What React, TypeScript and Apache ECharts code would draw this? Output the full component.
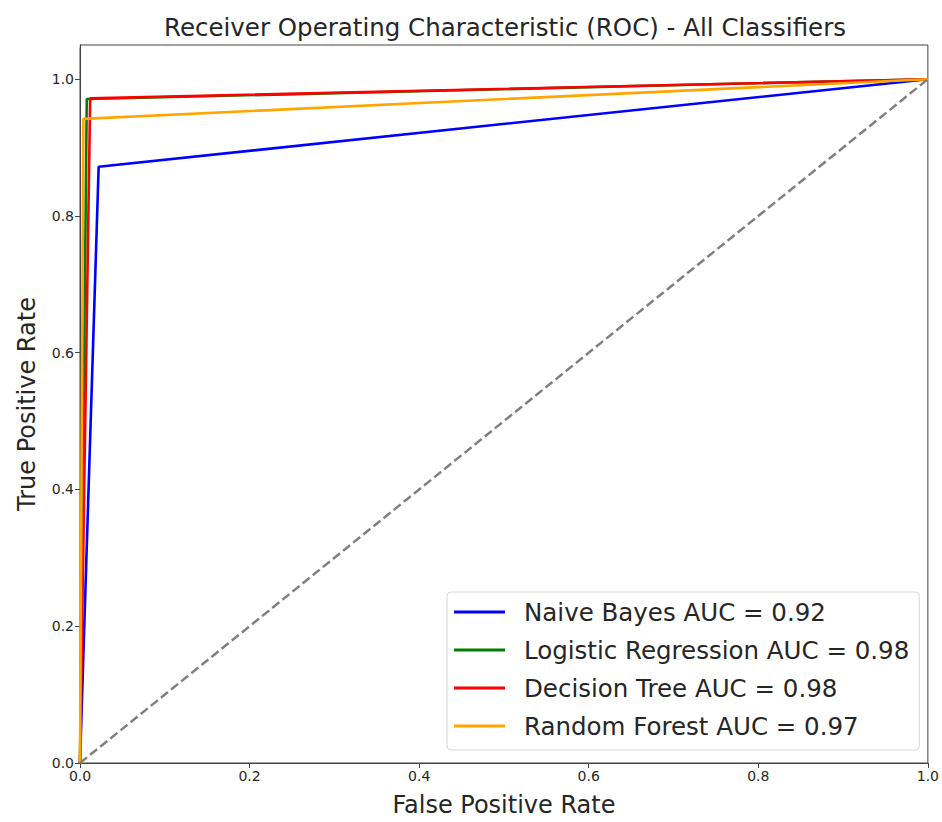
import React, { useEffect, useRef } from "react";
import * as echarts from "echarts";

const seriesNames = [
  "Naive Bayes AUC = 0.92",
  "Logistic Regression AUC = 0.98",
  "Decision Tree AUC = 0.98",
  "Random Forest AUC = 0.97",
];
const seriesColors = ["#0000ff", "#008000", "#ff0000", "#ffa500"];
const fprNB = [0, 0.022, 1];
const tprNB = [0, 0.872, 1];
const fprLR = [0, 0.008, 1];
const tprLR = [0, 0.971, 1];
const fprDT = [0, 0.012, 1];
const tprDT = [0, 0.972, 1];
const fprRF = [0, 0.004, 1];
const tprRF = [0, 0.942, 1];
const diagX = [0, 1];
const diagY = [0, 1];
const tickValues = [0, 0.2, 0.4, 0.6, 0.8, 1.0];

const zip = (xs: number[], ys: number[]) => xs.map((x, i) => [x, ys[i]]);

export default function App() {
  const ref = useRef<HTMLDivElement>(null);
  useEffect(() => {
    if (!ref.current) return;
    const chart = echarts.init(ref.current, null, { renderer: "svg" });
    const font = "DejaVu Sans";
    const tickFmt = (v: number) =>
      tickValues.some((t) => Math.abs(t - v) < 1e-6) ? v.toFixed(1) : "";
    const data = [
      zip(fprNB, tprNB),
      zip(fprLR, tprLR),
      zip(fprDT, tprDT),
      zip(fprRF, tprRF),
    ];
    const axisCommon = {
      type: "value",
      min: 0,
      interval: 0.2,
      nameLocation: "middle",
      nameTextStyle: { fontFamily: font, fontSize: 24, color: "#262626" },
      axisLine: { show: true, lineStyle: { color: "#444" } },
      axisTick: {
        show: true,
        inside: false,
        length: 5,
        customValues: tickValues,
        lineStyle: { color: "#444" },
      },
      axisLabel: {
        fontFamily: font,
        fontSize: 14,
        color: "#262626",
        margin: 6,
        customValues: tickValues,
        formatter: tickFmt,
      },
      splitLine: { show: false },
    };
    chart.setOption({
      animation: false,
      backgroundColor: "#ffffff",
      title: {
        text: "Receiver Operating Characteristic (ROC) - All Classifiers",
        left: 500,
        textAlign: "center",
        top: 10,
        textStyle: { fontFamily: font, fontSize: 24.5, fontWeight: "normal", color: "#262626" },
      },
      grid: {
        left: 80,
        right: 13,
        top: 45,
        bottom: 59,
        show: true,
        borderColor: "#444",
        borderWidth: 1,
        backgroundColor: "transparent",
      },
      xAxis: {
        ...axisCommon,
        max: 1,
        name: "False Positive Rate",
        nameGap: 30,
      },
      yAxis: {
        ...axisCommon,
        max: 1.05,
        name: "True Positive Rate",
        nameGap: 41,
        nameRotate: 90,
      },
      graphic: [
        {
          type: "rect",
          left: 72,
          top: 42,
          shape: { width: 7.5, height: 6 },
          style: { fill: "#ffffff" },
          z: 100,
        },
      ],
      legend: {
        orient: "vertical",
        left: 447,
        top: 592,
        data: seriesNames.map((n) => ({ name: n })),
        icon: "rect",
        itemWidth: 51,
        itemHeight: 3,
        itemGap: 12,
        padding: [7, 10, 11, 7],
        borderColor: "#d5d5d5",
        borderWidth: 1,
        borderRadius: 4,
        backgroundColor: "rgba(255,255,255,0.8)",
        textStyle: {
          fontFamily: font,
          fontSize: 24.5,
          color: "#262626",
          lineHeight: 26,
          padding: [0, 0, 0, 14],
        },
      },
      series: [
        ...seriesNames.map((n, i) => ({
          name: n,
          type: "line",
          data: data[i],
          symbol: "none",
          lineStyle: { color: seriesColors[i], width: 2.6 },
          itemStyle: { color: seriesColors[i] },
          z: 2 + i,
        })),
        {
          name: "diag",
          type: "line",
          data: zip(diagX, diagY),
          symbol: "none",
          lineStyle: { color: "#808080", width: 2.5, type: [9, 4] },
          z: 10,
        },
      ],
    });
    return () => chart.dispose();
  }, []);
  return (
    <div
      ref={ref}
      style={{ position: "fixed", left: 0, top: 0, width: 942, height: 822 }}
    />
  );
}
